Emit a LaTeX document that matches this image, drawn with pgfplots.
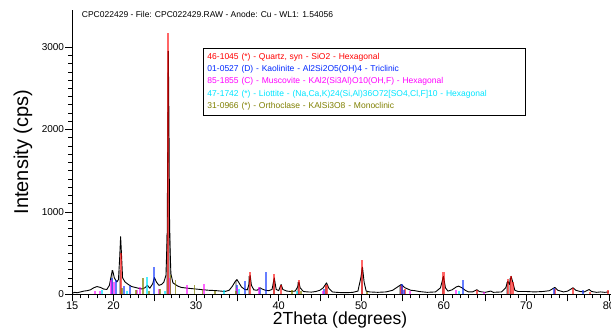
\documentclass[border=0pt]{standalone}
\usepackage{fontspec}
\setmainfont{Liberation Sans}
\usepackage{pgfplots}
\pgfplotsset{compat=1.18}
\usetikzlibrary{calc}
\definecolor{qz}{RGB}{255,0,0}
\definecolor{ka}{RGB}{0,40,255}
\definecolor{mu}{RGB}{255,0,255}
\definecolor{li}{RGB}{0,230,255}
\definecolor{ol}{RGB}{128,128,0}
\begin{document}
\begin{tikzpicture}
\begin{axis}[
 scale only axis, width=538.6pt, height=284.3pt,
 xmin=15, xmax=80.25, ymin=0, ymax=3450,
 axis x line=bottom, axis y line=left,
 axis line style={-, line width=0.8pt},
 tick align=outside,
 xtick={15,20,...,80}, xticklabels={15,20,,30,,40,,50,,60,,70,,80},
 minor x tick num=4,
 ytick={0,1000,2000,3000}, minor y tick num=9,
 major tick length=7pt, minor tick length=4pt,
 tick style={black, line width=0.6pt},
 /pgf/number format/assume math mode=true,
 /pgf/number format/1000 sep={},
 xticklabel style={font=\fontsize{11}{11}\selectfont, inner sep=0.5pt},
 yticklabel style={font=\fontsize{10}{10}\selectfont, inner sep=1pt},
 xlabel={2Theta (degrees)}, ylabel={Intensity (cps)},
 every axis x label/.style={at={(axis description cs:0.497,-0.09)}, anchor=center, font=\fontsize{17.5}{17.5}\selectfont},
 every axis y label/.style={at={(axis description cs:-0.0913,0.5)}, rotate=90, anchor=center, font=\fontsize{20}{20}\selectfont},
 clip=false,
]
\coordinate (sw) at (rel axis cs:0,0);
\coordinate (ne) at (rel axis cs:1,1);
% gray peak bars
\addplot[ycomb, gray, opacity=0.6, line width=2pt] coordinates {
(19.78,290) (20.75,300) (26.45,720) (26.62,2950) (26.85,750) (34.85,170) (36.45,220)
(39.40,190) (42.38,150) (45.70,130) (50.05,320) (54.75,115) (59.85,210) (67.70,150) (68.05,200)};
% measured pattern
\addplot[black, line width=0.9pt, line join=round] coordinates {
(15.0,15) (15.3,25) (15.6,20) (16.0,30) (16.4,40) (16.8,45) (17.2,55) (17.6,80) (18.0,95)
(18.4,85) (18.8,65) (19.2,60) (19.5,110) (19.75,240) (19.9,290) (20.1,200) (20.4,150)
(20.6,180) (20.75,450) (20.86,700) (20.95,520) (21.1,200) (21.4,150) (21.8,120) (22.2,95)
(22.6,85) (23.0,75) (23.4,65) (23.8,80) (24.1,110) (24.4,75) (24.75,130) (24.95,205)
(25.2,150) (25.5,110) (25.8,120) (26.1,150) (26.35,230) (26.5,700) (26.58,2000) (26.64,2950)
(26.72,2000) (26.8,700) (26.95,250) (27.2,140) (27.5,120) (27.8,100) (28.2,85) (28.6,80)
(29.0,75) (29.5,70) (30.0,65) (30.5,60) (31.0,55) (31.5,50) (32.0,48) (32.5,45) (33.0,40)
(33.5,35) (34.0,50) (34.4,100) (34.7,150) (34.95,180) (35.2,140) (35.5,90) (35.9,60)
(36.2,55) (36.4,120) (36.55,230) (36.7,110) (37.0,55) (37.4,50) (37.75,80) (38.0,65)
(38.4,50) (38.8,45) (39.2,60) (39.47,200) (39.7,60) (40.0,45) (40.3,120) (40.5,60) (41.0,40)
(41.5,35) (42.0,40) (42.3,90) (42.46,150) (42.6,80) (43.0,35) (43.5,30) (44.0,28) (44.5,35)
(45.0,50) (45.4,80) (45.8,140) (46.1,70) (46.5,30) (47.0,25) (47.5,22) (48.0,22) (48.5,22)
(49.0,25) (49.6,40) (49.95,200) (50.15,330) (50.35,150) (50.6,40) (51.0,30) (52.0,25)
(53.0,30) (53.8,50) (54.4,90) (54.85,120) (55.3,80) (56.0,50) (56.5,45) (57.0,35) (57.5,30)
(58.0,25) (59.0,30) (59.6,80) (59.96,220) (60.2,80) (60.5,40) (61.0,55) (61.5,90) (61.8,100)
(62.2,80) (62.6,50) (63.0,30) (63.5,30) (64.0,57) (64.3,35) (65.0,25) (65.7,40) (66.0,25)
(67.0,30) (67.5,80) (67.75,160) (67.95,120) (68.15,220) (68.35,150) (68.6,50) (69.0,35)
(70.0,35) (71.0,30) (72.0,35) (72.8,45) (73.45,85) (73.8,50) (74.5,30) (75.0,40) (75.65,80)
(76.0,50) (76.5,35) (77.0,30) (77.6,60) (77.9,35) (78.5,25) (79.0,30) (79.5,25) (80.0,30)};
% reference sticks
\addplot[ycomb, qz, opacity=0.6, line width=2.2pt] coordinates {
(20.86,500) (26.64,3170) (36.54,277) (39.47,242) (40.29,110) (42.45,177) (45.79,110)
(50.14,412) (54.87,100) (55.33,60) (59.96,277) (64.04,50) (67.74,190) (68.14,218)
(68.31,150) (73.47,60) (75.66,80) (77.68,30) (79.88,48)};
\addplot[ycomb, ka, opacity=0.6, line width=2pt] coordinates {
(19.86,200) (20.36,170) (21.24,100) (21.99,100) (24.86,335) (34.96,120) (35.90,157)
(37.70,60) (38.46,268) (45.50,60) (54.90,129) (55.20,50) (62.30,177) (73.40,80) (76.80,48)};
\addplot[ycomb, mu, opacity=0.6, line width=2pt] coordinates {
(17.80,40) (18.40,40) (19.70,170) (20.00,156) (22.90,50) (23.20,88) (25.50,60) (26.80,200)
(28.90,120) (31.00,130) (34.90,80) (37.60,88) (45.40,40) (55.90,40) (61.50,48) (64.90,30)};
\addplot[ycomb, li, opacity=0.7, line width=2pt] coordinates {
(18.55,50) (21.60,40) (24.00,215) (26.20,40) (33.40,50) (35.20,60) (42.20,40) (61.90,40)};
\addplot[ycomb, ol, opacity=0.7, line width=1.6pt] coordinates {
(21.00,80) (22.70,57) (23.60,200) (24.30,40) (25.60,60) (26.90,240) (27.50,170) (29.80,110)
(30.80,69) (32.30,40) (34.80,40) (41.60,48) (42.70,40) (50.70,28)};
\node[anchor=west, inner sep=0pt, font=\fontsize{8.5}{10}\selectfont] at (axis cs:16.15,3392)
 {CPC022429 - File: CPC022429.RAW - Anode: Cu - WL1: 1.54056};
\node[anchor=north west, draw=black, line width=0.6pt, fill=white, inner xsep=3pt, inner ysep=0pt,
 minimum width=321.7pt, minimum height=66.7pt, text width=314pt, align=left,
 font=\fontsize{8.5}{12.2}\selectfont] at (axis cs:30.88,2988)
 {\textcolor{qz}{46-1045 (*) - Quartz, syn - SiO2 - Hexagonal}\\
  \textcolor{ka}{01-0527 (D) - Kaolinite - Al2Si2O5(OH)4 - Triclinic}\\
  \textcolor{mu}{85-1855 (C) - Muscovite - KAl2(Si3Al)O10(OH,F) - Hexagonal}\\
  \textcolor{li}{47-1742 (*) - Liottite - (Na,Ca,K)24(Si,Al)36O72[SO4,Cl,F]10 - Hexagonal}\\
  \textcolor{ol}{31-0966 (*) - Orthoclase - KAlSi3O8 - Monoclinic}};
\end{axis}
\pgfresetboundingbox
\useasboundingbox ($(sw)+(-72.2pt,-34.5pt)$) rectangle ($(ne)+(0pt,10pt)$);
\end{tikzpicture}
\end{document}
